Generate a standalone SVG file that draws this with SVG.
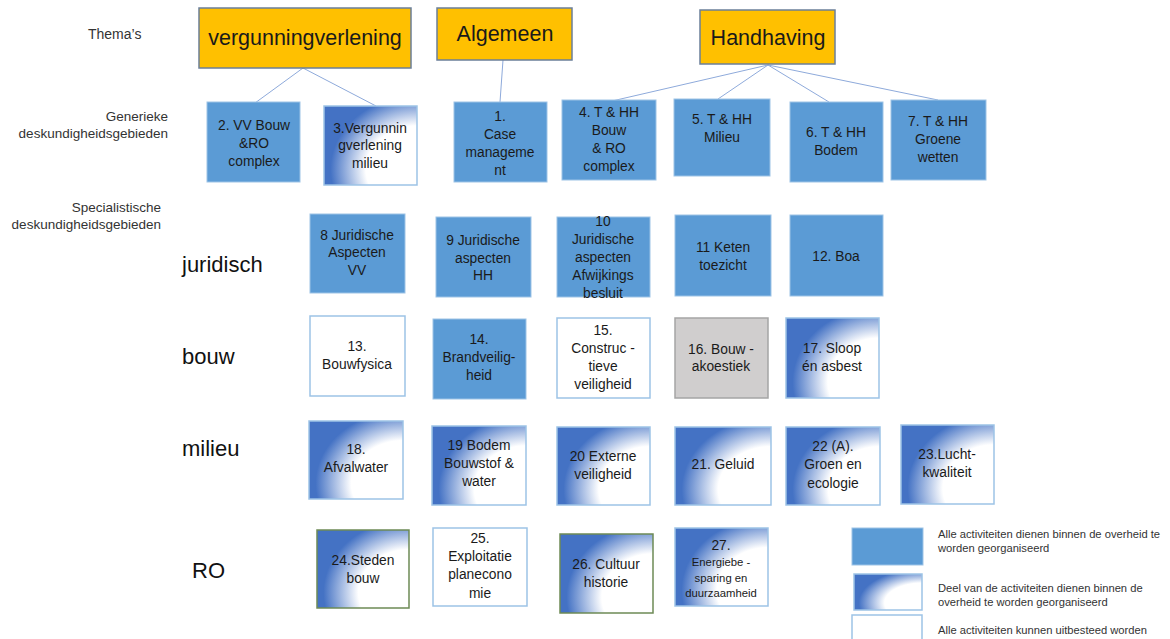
<svg xmlns="http://www.w3.org/2000/svg" width="1170" height="639" viewBox="0 0 1170 639">
<defs>
<radialGradient id="grad" cx="1" cy="0.8" r="1" fx="1" fy="0.8">
<stop offset="0" stop-color="#ffffff"/>
<stop offset="0.55" stop-color="#ffffff"/>
<stop offset="0.93" stop-color="#4472c4"/>
<stop offset="1" stop-color="#4472c4"/>
</radialGradient>
</defs>
<style>
text{font-family:"Liberation Sans",Arial,sans-serif;fill:#1a1a1a}
.lbl{font-size:13.5px;fill:#333}
.row{font-size:22px;fill:#111}
.thema{fill:#ffc000;stroke:#6b7f99;stroke-width:1.5}
.tt{font-size:21.5px;text-anchor:middle;dominant-baseline:central}
.blue{fill:#5b9bd5;stroke:#9dc3e6;stroke-width:1}
.white{fill:#ffffff;stroke:#9dc3e6;stroke-width:1.5}
.grad{fill:url(#grad);stroke:#9dc3e6;stroke-width:1.5}
.gradg{fill:url(#grad);stroke:#6d8a55;stroke-width:1.5}
.gray{fill:#d0cece;stroke:#a5a5a5;stroke-width:1.5}
.t{font-size:13.8px;text-anchor:middle;dominant-baseline:central}
.ts{font-size:11.3px;text-anchor:middle;dominant-baseline:central}
.leg{font-size:11.2px;fill:#333}
.conn line{stroke:#8eaadb;stroke-width:1}
</style>
<rect width="1170" height="639" fill="#ffffff"/>

<text class="lbl" x="88" y="39" style="font-size:14px">Thema’s</text>
<text class="lbl" x="168" y="121" text-anchor="end">Generieke</text>
<text class="lbl" x="168" y="138" text-anchor="end">deskundigheidsgebieden</text>
<text class="lbl" x="161" y="212" text-anchor="end">Specialistische</text>
<text class="lbl" x="161" y="229" text-anchor="end">deskundigheidsgebieden</text>
<text class="row" x="182" y="272">juridisch</text>
<text class="row" x="182" y="364">bouw</text>
<text class="row" x="182" y="456">milieu</text>
<text class="row" x="192" y="578">RO</text>

<g class="conn">
<line x1="303" y1="68" x2="255" y2="103"/>
<line x1="303" y1="68" x2="376" y2="106"/>
<line x1="503" y1="60" x2="500" y2="102"/>
<line x1="768" y1="65" x2="612" y2="101"/>
<line x1="768" y1="65" x2="718" y2="99"/>
<line x1="768" y1="65" x2="829" y2="102"/>
<line x1="768" y1="65" x2="938" y2="100"/>
</g>

<g id="vergunningverlening"><rect class="thema" x="199" y="8" width="212" height="60"/><text class="tt" x="305" y="38">vergunningverlening</text></g>
<g id="algemeen"><rect class="thema" x="437" y="8" width="135" height="52"/><text class="tt" x="505" y="34">Algemeen</text></g>
<g id="handhaving"><rect class="thema" x="700" y="10" width="135" height="54"/><text class="tt" x="768" y="38">Handhaving</text></g>

<g id="n2"><rect class="blue" x="207" y="102" width="93" height="80"/><text class="t" x="254" y="125">2. VV Bouw</text><text class="t" x="254" y="143">&amp;RO</text><text class="t" x="254" y="161">complex</text></g>
<g id="n3"><rect class="grad" x="324" y="106" width="93" height="79"/><text class="t" x="370" y="128">3.Vergunnin</text><text class="t" x="370" y="145">gverlening</text><text class="t" x="370" y="163">milieu</text></g>
<g id="n1"><rect class="blue" x="454" y="102" width="93" height="80"/><text class="t" x="500" y="116">1.</text><text class="t" x="500" y="134">Case</text><text class="t" x="500" y="152">manageme</text><text class="t" x="500" y="170">nt</text></g>
<g id="n4"><rect class="blue" x="562" y="100" width="94" height="80"/><text class="t" x="609" y="112">4. T &amp; HH</text><text class="t" x="609" y="130">Bouw</text><text class="t" x="609" y="148">&amp; RO</text><text class="t" x="609" y="166">complex</text></g>
<g id="n5"><rect class="blue" x="674" y="99" width="96" height="77"/><text class="t" x="722" y="119">5. T &amp; HH</text><text class="t" x="722" y="137">Milieu</text></g>
<g id="n6"><rect class="blue" x="790" y="102" width="93" height="80"/><text class="t" x="836" y="132">6. T &amp; HH</text><text class="t" x="836" y="150">Bodem</text></g>
<g id="n7"><rect class="blue" x="891" y="100" width="95" height="80"/><text class="t" x="938" y="121">7. T &amp; HH</text><text class="t" x="938" y="139">Groene</text><text class="t" x="938" y="157">wetten</text></g>

<g id="n8"><rect class="blue" x="310" y="214" width="95" height="79"/><text class="t" x="357" y="235">8 Juridische</text><text class="t" x="357" y="252">Aspecten</text><text class="t" x="357" y="270">VV</text></g>
<g id="n9"><rect class="blue" x="436" y="217" width="95" height="80"/><text class="t" x="483" y="240">9 Juridische</text><text class="t" x="483" y="258">aspecten</text><text class="t" x="483" y="275">HH</text></g>
<g id="n10"><rect class="blue" x="557" y="217" width="93" height="80"/><text class="t" x="603" y="221">10</text><text class="t" x="603" y="239">Juridische</text><text class="t" x="603" y="257">aspecten</text><text class="t" x="603" y="275">Afwijkings</text><text class="t" x="603" y="293">besluit</text></g>
<g id="n11"><rect class="blue" x="675" y="215" width="96" height="81"/><text class="t" x="723" y="247">11 Keten</text><text class="t" x="723" y="265">toezicht</text></g>
<g id="n12"><rect class="blue" x="790" y="215" width="93" height="81"/><text class="t" x="836" y="256">12. Boa</text></g>

<g id="n13"><rect class="white" x="310" y="316" width="95" height="80"/><text class="t" x="357" y="346">13.</text><text class="t" x="357" y="364">Bouwfysica</text></g>
<g id="n14"><rect class="blue" x="433" y="319" width="93" height="80"/><text class="t" x="479" y="339">14.</text><text class="t" x="479" y="357">Brandveilig-</text><text class="t" x="479" y="375">heid</text></g>
<g id="n15"><rect class="white" x="557" y="318" width="93" height="80"/><text class="t" x="603" y="330">15.</text><text class="t" x="603" y="348">Construc -</text><text class="t" x="603" y="366">tieve</text><text class="t" x="603" y="384">veiligheid</text></g>
<g id="n16"><rect class="gray" x="675" y="318" width="93" height="80"/><text class="t" x="721" y="349">16. Bouw -</text><text class="t" x="721" y="366">akoestiek</text></g>
<g id="n17"><rect class="grad" x="786" y="318" width="93" height="80"/><text class="t" x="832" y="348">17. Sloop</text><text class="t" x="832" y="366">én asbest</text></g>

<g id="n18"><rect class="grad" x="309" y="421" width="94" height="78"/><text class="t" x="356" y="449">18.</text><text class="t" x="356" y="467">Afvalwater</text></g>
<g id="n19"><rect class="grad" x="432" y="426" width="94" height="79"/><text class="t" x="479" y="445">19 Bodem</text><text class="t" x="479" y="463">Bouwstof &amp;</text><text class="t" x="479" y="481">water</text></g>
<g id="n20"><rect class="grad" x="557" y="427" width="93" height="78"/><text class="t" x="603" y="456">20 Externe</text><text class="t" x="603" y="474">veiligheid</text></g>
<g id="n21"><rect class="grad" x="675" y="427" width="96" height="78"/><text class="t" x="723" y="464">21. Geluid</text></g>
<g id="n22"><rect class="grad" x="786" y="427" width="94" height="78"/><text class="t" x="833" y="446">22 (A).</text><text class="t" x="833" y="464">Groen en</text><text class="t" x="833" y="483">ecologie</text></g>
<g id="n23"><rect class="grad" x="901" y="425" width="93" height="79"/><text class="t" x="947" y="454">23.Lucht-</text><text class="t" x="947" y="472">kwaliteit</text></g>

<g id="n24"><rect class="gradg" x="317" y="530" width="92" height="78"/><text class="t" x="363" y="560">24.Steden</text><text class="t" x="363" y="578">bouw</text></g>
<g id="n25"><rect class="white" x="433" y="528" width="94" height="78"/><text class="t" x="480" y="538">25.</text><text class="t" x="480" y="556">Exploitatie</text><text class="t" x="480" y="574">planecono</text><text class="t" x="480" y="593">mie</text></g>
<g id="n26"><rect class="gradg" x="560" y="534" width="93" height="79"/><text class="t" x="606" y="564">26. Cultuur</text><text class="t" x="606" y="582">historie</text></g>
<g id="n27"><rect class="grad" x="675" y="528" width="93" height="78"/><text class="t" x="721" y="545">27.</text><text class="ts" x="721" y="562">Energiebe -</text><text class="ts" x="721" y="578">sparing en</text><text class="ts" x="721" y="593">duurzaamheid</text></g>

<g id="legend">
<rect class="blue" x="852" y="528" width="71" height="37"/>
<rect class="grad" x="854" y="574" width="68" height="36"/>
<rect class="white" x="852" y="615" width="70" height="30"/>
<text class="leg" x="938" y="538">Alle activiteiten dienen binnen de overheid te</text>
<text class="leg" x="938" y="552">worden georganiseerd</text>
<text class="leg" x="938" y="592">Deel van de activiteiten dienen binnen de</text>
<text class="leg" x="938" y="606">overheid te worden georganiseerd</text>
<text class="leg" x="938" y="634">Alle activiteiten kunnen uitbesteed worden</text>
</g>
</svg>
